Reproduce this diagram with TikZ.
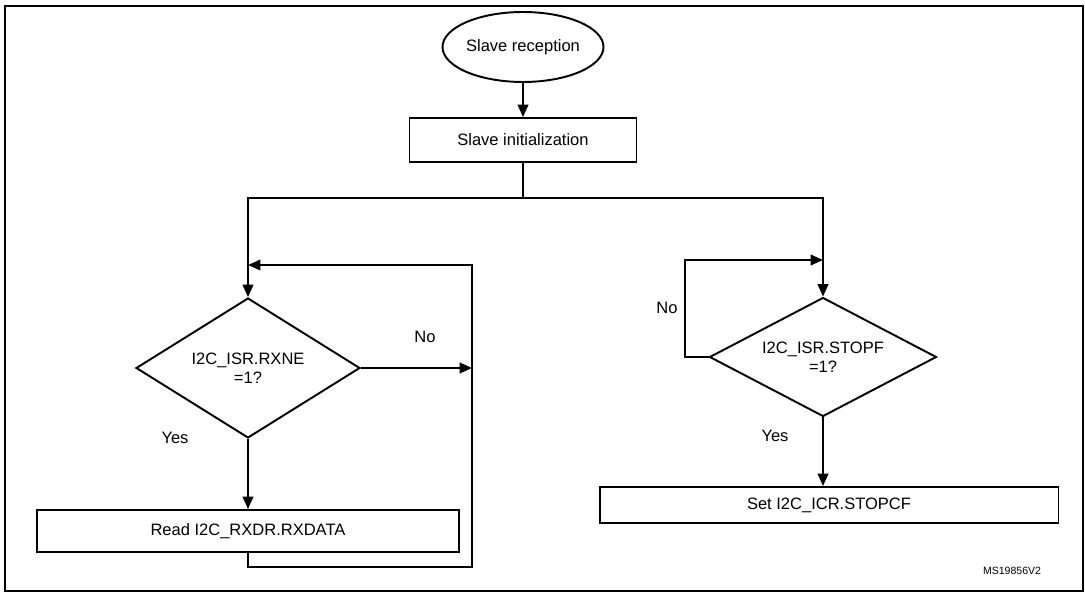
\documentclass[tikz,border=0pt]{standalone}
\usepackage{fontspec}
\setmainfont{Liberation Sans}
\usetikzlibrary{shapes.geometric,arrows.meta}
\tikzset{
  flow/.style={line width=1.1pt},
  arr/.style={flow, -{Triangle[length=7pt,width=6pt]}},
  procbox/.style={draw, line width=1.1pt, minimum height=#1, inner sep=0pt},
  decision/.style={draw, diamond, aspect=1.9, line width=1.1pt, inner sep=0pt, align=center},
}
\begin{document}
\begin{tikzpicture}[x=0.02cm, y=-0.02cm, font=\fontsize{9.4}{11}\selectfont]
  \useasboundingbox (0,0) rectangle (1085,594);
  \draw[line width=1.1pt] (5,6) rectangle (1083,591);

  % top of the flow
  \node[draw, ellipse, line width=1.1pt, minimum width=3cm, minimum height=1.4cm, inner sep=0pt] (start) at (523,47) {Slave reception};
  \node[procbox=0.88cm, minimum width=4.54cm] (init) at (523,140) {Slave initialization};
  \draw[arr] (start) -- (init);
  \coordinate (split) at (523,198);
  \draw[flow] (init) -- (split);

  % left branch
  \node[decision, minimum width=4.48cm, minimum height=2.8cm] (rxne) at (248,368) {I2C\_ISR.RXNE\\=1?};
  \node[procbox=0.84cm, minimum width=8.44cm] (read) at (248,531) {Read I2C\_RXDR.RXDATA};
  \coordinate (lloop) at (248,265);
  \coordinate (lno) at (472,368);
  \coordinate (lbot) at (472,567);
  \draw[arr] (split) -| (rxne.north);
  \draw[arr] (lno) |- (lloop);
  \draw[arr] (rxne.east) -- (lno);
  \draw[flow] (read.south) |- (lbot) -- (lno);
  \draw[arr] (rxne.south) -- (read.north);
  \node at (425,337) {No};
  \node at (175,438) {Yes};

  % right branch
  \node[decision, minimum width=4.54cm, minimum height=2.38cm] (stopf) at (823,357) {I2C\_ISR.STOPF\\=1?};
  \node[procbox=0.72cm, minimum width=9.18cm] (setcf) at (829,505) {Set I2C\_ICR.STOPCF};
  \coordinate (rloop) at (823,260);
  \draw[arr] (split) -| (stopf.north);
  \draw[arr] (stopf.west) -- ++(-24,0) |- (rloop);
  \draw[arr] (stopf.south) -- (setcf.north -| stopf.south);
  \node at (667,308) {No};
  \node at (775,436) {Yes};

  \node[font=\fontsize{6}{7}\selectfont] (code) at (1012,571) {MS19856V2};
\end{tikzpicture}
\end{document}
